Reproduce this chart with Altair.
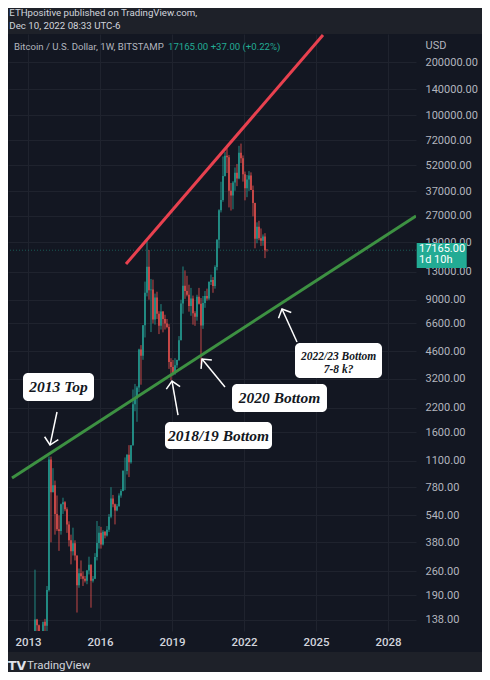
import altair as alt
import pandas as pd

# ---------------- data (monthly candles, Mar 2013 - Dec 2022) ----------------
FIRST_MONTH = "2013-03"
OPEN = [
    34, 93, 139, 129, 97, 106, 135, 128, 204, 1120,
    730, 800, 550, 450, 440, 625, 640, 585, 480, 390, 338, 375,
    320, 217, 254, 244, 236, 230, 263, 284, 230, 236, 314, 377,
    430, 369, 436, 416, 448, 531, 673, 624, 575, 609, 700, 742,
    964, 965, 1190, 1080, 1348, 2300, 2480, 2860, 4700, 4340, 6450, 9850,
    13850, 10200, 10300, 6950, 9250, 7500, 6400, 7730, 7000, 6600, 6300, 4000,
    3740, 3450, 3830, 4100, 5300, 8570, 10800, 10080, 9600, 8300, 9150, 7550,
    7200, 9350, 8550, 6420, 8630, 9450, 9140, 11350, 11650, 10780, 13800, 19700,
    28950, 33100, 45200, 58800, 57700, 37300, 35000, 41500, 47100, 43800, 61300, 57000,
    46200, 38500, 43200, 45500, 37700, 31800, 19950, 23300, 20050, 19430, 20500, 17170,
]
HIGH = [
    95, 266, 140, 130, 110, 130, 140, 215, 1163, 1163,
    1000, 850, 700, 540, 630, 680, 650, 600, 500, 420, 460, 390,
    320, 270, 300, 260, 245, 265, 315, 285, 245, 330, 502, 470,
    465, 445, 440, 470, 550, 780, 705, 630, 625, 720, 760, 975,
    1150, 1200, 1350, 1350, 2790, 3000, 2920, 4750, 4980, 6470, 11400, 19666,
    17200, 11800, 11700, 9750, 9990, 7750, 8500, 7750, 7400, 7000, 6550, 4200,
    4100, 4200, 4120, 5600, 9000, 13880, 13200, 12300, 10950, 10500, 9500, 7750,
    9600, 10500, 9200, 9450, 10080, 10400, 11450, 12480, 12100, 14100, 19850, 29300,
    41950, 58300, 61700, 64900, 59500, 41300, 42300, 50500, 52900, 67000, 69000, 59100,
    47900, 45800, 48200, 47400, 39900, 31900, 24700, 25200, 22800, 21100, 21450, 17440,
]
LOW = [
    33, 50, 79, 88, 65, 100, 110, 105, 200, 380,
    730, 420, 440, 340, 420, 550, 570, 430, 360, 285, 320, 300,
    152, 210, 235, 215, 225, 220, 250, 162, 225, 235, 300, 350,
    350, 365, 400, 410, 435, 520, 600, 480, 570, 605, 680, 740,
    750, 920, 890, 1060, 1340, 2100, 1830, 2700, 2970, 4110, 5500, 9400,
    9000, 5900, 6600, 6500, 7000, 5750, 6100, 5880, 6100, 6200, 3650, 3150,
    3350, 3380, 3700, 4050, 5300, 7500, 9100, 9400, 7700, 7300, 6500, 6400,
    6850, 8450, 3850, 6150, 8100, 8900, 8950, 10900, 9850, 10400, 13200, 17600,
    28100, 32300, 44900, 47000, 30000, 28800, 29300, 37300, 39600, 43300, 53500, 42000,
    32900, 34300, 37200, 37600, 26700, 17600, 18800, 19550, 18150, 18200, 15480, 16880,
]
CLOSE = [
    93, 139, 129, 97, 106, 135, 128, 204, 1120, 730,
    800, 550, 450, 440, 625, 640, 585, 480, 390, 338, 375, 320,
    217, 254, 244, 236, 230, 263, 284, 230, 236, 314, 377, 430,
    369, 436, 416, 448, 531, 673, 624, 575, 609, 700, 742, 964,
    965, 1190, 1080, 1348, 2300, 2480, 2860, 4700, 4340, 6450, 9850, 13850,
    10200, 10300, 6950, 9250, 7500, 6400, 7730, 7000, 6600, 6300, 4000, 3740,
    3450, 3830, 4100, 5300, 8570, 10800, 10080, 9600, 8300, 9150, 7550, 7200,
    9350, 8550, 6420, 8630, 9450, 9140, 11350, 11650, 10780, 13800, 19700, 28950,
    33100, 45200, 58800, 57700, 37300, 35000, 41500, 47100, 43800, 61300, 57000, 46200,
    38500, 43200, 45500, 37700, 31800, 19950, 23300, 20050, 19430, 20500, 17170, 17165,
]
LAST_PRICE = 17165

# axis ticks
X_TICKS = [2013, 2016, 2019, 2022, 2025, 2028]
Y_TICKS = [138, 190, 260, 380, 540, 780, 1100, 1600, 2200, 3200, 4600, 6600,
           9000, 13000, 19000, 27000, 37000, 52000, 72000, 100000, 140000, 200000]
X_DOMAIN = [2012.1667, 2029.1667]
Y_DOMAIN = [119.5, 288200]

# trend lines (decimal year, price)
RED_X = [2017.083, 2025.292]
RED_Y = [14340, 284600]
GREEN_X = [2012.333, 2029.167]
GREEN_Y = [879, 26830]

# annotation boxes
NOTE_TEXT = ["2013 Top", "2018/19 Bottom", "2020 Bottom", "2022/23 Bottom\n7-8 k?"]
NOTE_SIZE = [15.5, 15.5, 15.5, 11.5]
NOTE_X1 = [2012.792, 2018.708, 2021.5, 2024.125]
NOTE_X2 = [2015.75, 2023.167, 2025.458, 2027.75]
NOTE_Y1 = [3459, 1825, 2997, 5117]
NOTE_Y2 = [2401, 1283, 2080, 3240]
NOTE_TX = [2014.27, 2020.94, 2023.48, 2025.94]
NOTE_TY = [2882, 1521, 2497, 4290]

# arrows
ARROW_X1 = [2014.208, 2019.25, 2021.208, 2024.208]
ARROW_Y1 = [2080, 2000, 2882, 5183]
ARROW_X2 = [2013.917, 2019.0, 2020.25, 2023.583]
ARROW_Y2 = [1352, 3116, 4152, 7972]
ARROW_ANGLE = [192, 350, 320.6, 335.6]

# header / legend / footer texts
HEADER = ["ETHpositive published on TradingView.com,", "Dec 10, 2022 08:33 UTC-6"]
LEGEND = ["Bitcoin / U.S. Dollar, 1W, BITSTAMP", "17165.00  +37.00 (+0.22%)"]
LOGO = "TV"
BRAND = "TradingView"

# colours
BG_PANE = "#131722"
BG_FRAME = "#1e2129"
GRID = "#1f232e"
UP = "#26a69a"
DOWN = "#ef5350"
TV_GREEN = "#22ab94"

# ---------------- frames ----------------
months = pd.period_range(FIRST_MONTH, periods=len(CLOSE), freq="M")
candles = pd.DataFrame({
    "t": [p.year + (p.month - 0.5) / 12 for p in months],
    "o": OPEN, "h": HIGH, "l": LOW, "c": CLOSE,
})
candles["dir"] = ["up" if c >= o else "down" for o, c in zip(OPEN, CLOSE)]

xscale = alt.Scale(domain=X_DOMAIN, nice=False, zero=False)
yscale = alt.Scale(type="log", domain=Y_DOMAIN, nice=False, zero=False)
xaxis = alt.Axis(values=X_TICKS, format="d", labelColor="#d1d4dc", labelFont="Roboto",
                 labelFontSize=11.5, labelFontWeight=500, labelPadding=5, ticks=False,
                 domain=False, grid=True, gridColor=GRID, title=None, labelFlush=False,
                 labelOverlap=False, zindex=0)
yaxis = alt.Axis(orient="right", values=Y_TICKS, format=".2f", labelColor="#b2b5be",
                 labelFont="Roboto", labelFontSize=11, labelAlign="left",
                 labelPadding=9, ticks=False, domain=False, grid=True, gridColor=GRID,
                 title="USD", titleAngle=0, titleAlign="left", titleBaseline="middle",
                 titleX=9, titleY=11, titleColor="#b2b5be", titleFont="Roboto",
                 titleFontSize=11, titleFontWeight="normal", labelOverlap=False,
                 zindex=0)


def X(f):
    return alt.X(f, type="quantitative", scale=xscale, axis=xaxis)


def Y(f):
    return alt.Y(f, type="quantitative", scale=yscale, axis=yaxis)


# outer frame strips (header / footer) around the dark pane
strips = pd.DataFrame({"x": [2011.5, 2011.5], "x2": [2033.0, 2033.0],
                       "y": [420000, 90.8], "y2": [Y_DOMAIN[1], 60]})
strip_layer = alt.Chart(strips).mark_rect(color=BG_FRAME, clip=False).encode(
    x=X("x"), x2="x2", y=Y("y"), y2="y2")

header = alt.Chart(pd.DataFrame({"x": [2012.22, 2012.22], "y": [378900, 319900],
                                 "text": HEADER})).mark_text(
    font="Roboto", fontSize=9.7, color="#d1d4dc", align="left", baseline="middle",
    clip=False).encode(x=X("x"), y=Y("y"), text="text:N")

price_line = alt.Chart(pd.DataFrame({"p": [LAST_PRICE]})).mark_rule(
    color=TV_GREEN, opacity=0.45, strokeDash=[1, 2], strokeWidth=1).encode(y=Y("p"))

color = alt.Color("dir:N", scale=alt.Scale(domain=["up", "down"], range=[UP, DOWN]),
                  legend=None)
wicks = alt.Chart(candles).mark_rule(strokeWidth=1, clip=True, opacity=0.8).encode(
    x=X("t"), y=Y("l"), y2="h", color=color)
bodies = alt.Chart(candles).mark_rule(strokeWidth=1.5, clip=True, opacity=0.9).encode(
    x=X("t"), y=Y("o"), y2="c", color=color)

red = alt.Chart(pd.DataFrame({"x": RED_X, "y": RED_Y})).mark_line(
    color="#e8414f", strokeWidth=3, clip=True).encode(x=X("x"), y=Y("y"))
green = alt.Chart(pd.DataFrame({"x": GREEN_X, "y": GREEN_Y})).mark_line(
    color="#3d9142", strokeWidth=3, clip=True).encode(x=X("x"), y=Y("y"))

arrows = pd.DataFrame({"x1": ARROW_X1, "y1": ARROW_Y1, "x2": ARROW_X2,
                       "y2": ARROW_Y2, "a": ARROW_ANGLE})
shafts = alt.Chart(arrows).mark_rule(color="white", strokeWidth=1.5).encode(
    x=X("x1"), y=Y("y1"), x2="x2", y2="y2")
heads = alt.Chart(arrows).mark_point(shape="M -1 1 L 0 0 L 1 1", filled=False,
                                     color="white", strokeWidth=1.5, size=196,
                                     opacity=1).encode(
    x=X("x2"), y=Y("y2"), angle=alt.Angle("a:Q", scale=None))

notes = pd.DataFrame({"text": NOTE_TEXT, "size": NOTE_SIZE, "x1": NOTE_X1,
                      "x2": NOTE_X2, "y1": NOTE_Y1, "y2": NOTE_Y2,
                      "tx": NOTE_TX, "ty": NOTE_TY})
boxes = alt.Chart(notes).mark_rect(color="white", cornerRadius=5).encode(
    x=X("x1"), x2="x2", y=Y("y1"), y2="y2")
note_text = alt.Chart(notes).mark_text(
    font="Liberation Serif", fontStyle="italic", fontWeight="bold",
    color="#131722", align="center", baseline="middle", lineBreak="\n",
    lineHeight=13).encode(
    x=X("tx"), y=Y("ty"), text="text:N", size=alt.Size("size:Q", scale=None))

legend_df = pd.DataFrame({
    "x": [2012.417, 2018.833],
    "y": [243200, 243200],
    "text": LEGEND,
    "c": ["#b2b5be", TV_GREEN],
})
legend_text = alt.Chart(legend_df).mark_text(
    font="Roboto", fontSize=9.6, align="left", baseline="middle").encode(
    x=X("x"), y=Y("y"), text="text:N", color=alt.Color("c:N", scale=None))

price_box = alt.Chart(pd.DataFrame({"x": [2029.196], "x2": [2031.28],
                                    "y": [18860], "y2": [13610]})).mark_rect(
    color=TV_GREEN, clip=False).encode(x=X("x"), x2="x2", y=Y("y"), y2="y2")
price_text = alt.Chart(pd.DataFrame({"x": [2029.29, 2029.29], "y": [17440, 15110],
                                     "text": ["17165.00", "1d 10h"]})).mark_text(
    font="Roboto", fontSize=11, color="white", align="left", baseline="middle",
    clip=False).encode(x=X("x"), y=Y("y"), text="text:N")

logo = alt.Chart(pd.DataFrame({"x": [2012.17], "y": [75.6], "text": [LOGO]})).mark_text(
    font="DejaVu Sans", fontWeight="bold", fontSize=12.5, color="#e0e3eb",
    align="left", baseline="middle", clip=False).encode(
    x=X("x"), y=Y("y"), text="text:N")
brand = alt.Chart(pd.DataFrame({"x": [2012.96], "y": [75.6], "text": [BRAND]})).mark_text(
    font="Roboto", fontSize=11.5, color="#d1d4dc", align="left", baseline="middle",
    clip=False).encode(x=X("x"), y=Y("y"), text="text:N")

chart = alt.layer(
    strip_layer, header, price_line, wicks, bodies, red, green, shafts, heads,
    boxes, note_text, legend_text, price_box, price_text, logo, brand,
).properties(
    width=408, height=597,
    background=BG_PANE,
    padding={"left": 0, "top": 26, "right": 66, "bottom": 41},
    autosize=alt.AutoSizeParams(type="none"),
).configure_view(stroke=None)

chart.save("out.html", embed_options={"renderer": "svg", "actions": False})
